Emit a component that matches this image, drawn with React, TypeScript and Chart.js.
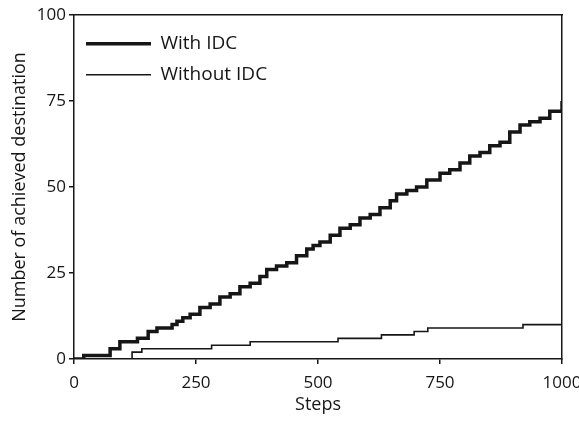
import { useEffect, useRef } from 'react';
import { Chart, registerables } from 'chart.js';

Chart.register(...registerables);

// With IDC: steps where the cumulative count was read, and its value
const withSteps = [0, 20, 74, 94, 130, 152, 170, 201, 211, 223, 238, 258, 279, 299, 320, 340, 361, 381, 395, 415, 436, 456, 477, 490, 504, 525, 545, 566, 586, 607, 627, 648, 661, 682, 702, 723, 750, 770, 791, 811, 832, 852, 873, 893, 914, 934, 955, 975, 1000];
const withValues = [0, 1, 3, 5, 6, 8, 9, 10, 11, 12, 13, 15, 16, 18, 19, 21, 22, 24, 26, 27, 28, 30, 32, 33, 34, 36, 38, 39, 41, 42, 44, 46, 48, 49, 50, 52, 54, 55, 57, 59, 60, 62, 63, 66, 68, 69, 70, 72, 75];

// Without IDC: steps at which the count changes
const withoutSteps = [0, 119, 139, 282, 361, 541, 630, 697, 725, 920, 1000];
const withoutValues = [0, 2, 3, 4, 5, 6, 7, 8, 9, 10, 10];

const xTicks = [0, 250, 500, 750, 1000];
const yTicks = [0, 25, 50, 75, 100];

const seriesLabels = ['With IDC', 'Without IDC'];

const INK = '#161616';
const FONT = 'Open Sans';

export default function App() {
  const ref = useRef<HTMLCanvasElement>(null);

  useEffect(() => {
    document.body.style.margin = '0';
    const canvas = ref.current;
    if (!canvas) return;

    const chart = new Chart(canvas, {
      type: 'line',
      data: {
        datasets: [
          {
            label: seriesLabels[0],
            data: withSteps.map((x, i) => ({ x, y: withValues[i] })),
            borderColor: INK,
            backgroundColor: INK,
            borderWidth: 3.5,
            pointRadius: 0,
            stepped: 'before',
            fill: false,
          },
          {
            label: seriesLabels[1],
            data: withoutSteps.map((x, i) => ({ x, y: withoutValues[i] })),
            borderColor: INK,
            backgroundColor: INK,
            borderWidth: 1.6,
            pointRadius: 0,
            stepped: 'before',
            fill: false,
          },
        ],
      },
      options: {
        responsive: false,
        animation: false,
        layout: { padding: { left: 0, right: 17, top: 15, bottom: 0 } },
        plugins: {
          tooltip: { enabled: false },
          legend: {
            position: 'chartArea',
            align: 'start',
            title: { display: true, text: ' ', font: { size: 1 }, padding: { top: 21, bottom: 0 } },
            labels: {
              usePointStyle: true,
              pointStyle: 'line',
              pointStyleWidth: 65,
              padding: 12,
              color: INK,
              font: { family: FONT, size: 19 },
            },
          },
        },
        scales: {
          x: {
            type: 'linear',
            min: 0,
            max: 1000,
            afterBuildTicks: (s: any) => {
              s.ticks = xTicks.map((v) => ({ value: v }));
            },
            afterFit: (s: any) => {
              s.height = 64;
              s.paddingLeft = 0;
              s.paddingRight = 0;
            },
            ticks: {
              color: INK,
              padding: 9,
              font: { family: FONT, size: 17 },
              callback: (v: any) => String(v),
            },
            grid: { drawOnChartArea: false, tickLength: 5, color: INK, lineWidth: 1.5 },
            border: { color: INK, width: 1.5 },
            title: {
              display: true,
              text: 'Steps',
              color: INK,
              font: { family: FONT, size: 18 },
              padding: { top: 0, bottom: 7 },
            },
          },
          y: {
            type: 'linear',
            min: 0,
            max: 100,
            afterBuildTicks: (s: any) => {
              s.ticks = yTicks.map((v) => ({ value: v }));
            },
            afterFit: (s: any) => {
              s.width = 74;
              s.paddingTop = 0;
              s.paddingBottom = 0;
            },
            ticks: {
              color: INK,
              padding: 3,
              font: { family: FONT, size: 17 },
              callback: (v: any) => String(v),
            },
            grid: { drawOnChartArea: false, tickLength: 5, color: INK, lineWidth: 1.5 },
            border: { color: INK, width: 1.5 },
            title: {
              display: true,
              text: 'Number of achieved destination',
              color: INK,
              font: { family: FONT, size: 18 },
              padding: { top: 9, bottom: 0 },
            },
          },
          x2: {
            type: 'linear',
            position: 'top',
            min: 0,
            max: 1000,
            ticks: { display: false },
            grid: { drawOnChartArea: false, drawTicks: false },
            border: { color: INK, width: 1.5 },
            afterFit: (s: any) => {
              s.height = 0;
              s.paddingLeft = 0;
              s.paddingRight = 0;
            },
          },
          y2: {
            type: 'linear',
            position: 'right',
            min: 0,
            max: 100,
            ticks: { display: false },
            grid: { drawOnChartArea: false, drawTicks: false },
            border: { color: INK, width: 1.5 },
            afterFit: (s: any) => {
              s.width = 0;
              s.paddingTop = 0;
              s.paddingBottom = 0;
            },
          },
        },
      },
    });

    return () => chart.destroy();
  }, []);

  return (
    <div style={{ width: 579, height: 423, background: '#fff' }}>
      <canvas ref={ref} width={579} height={423} />
    </div>
  );
}
